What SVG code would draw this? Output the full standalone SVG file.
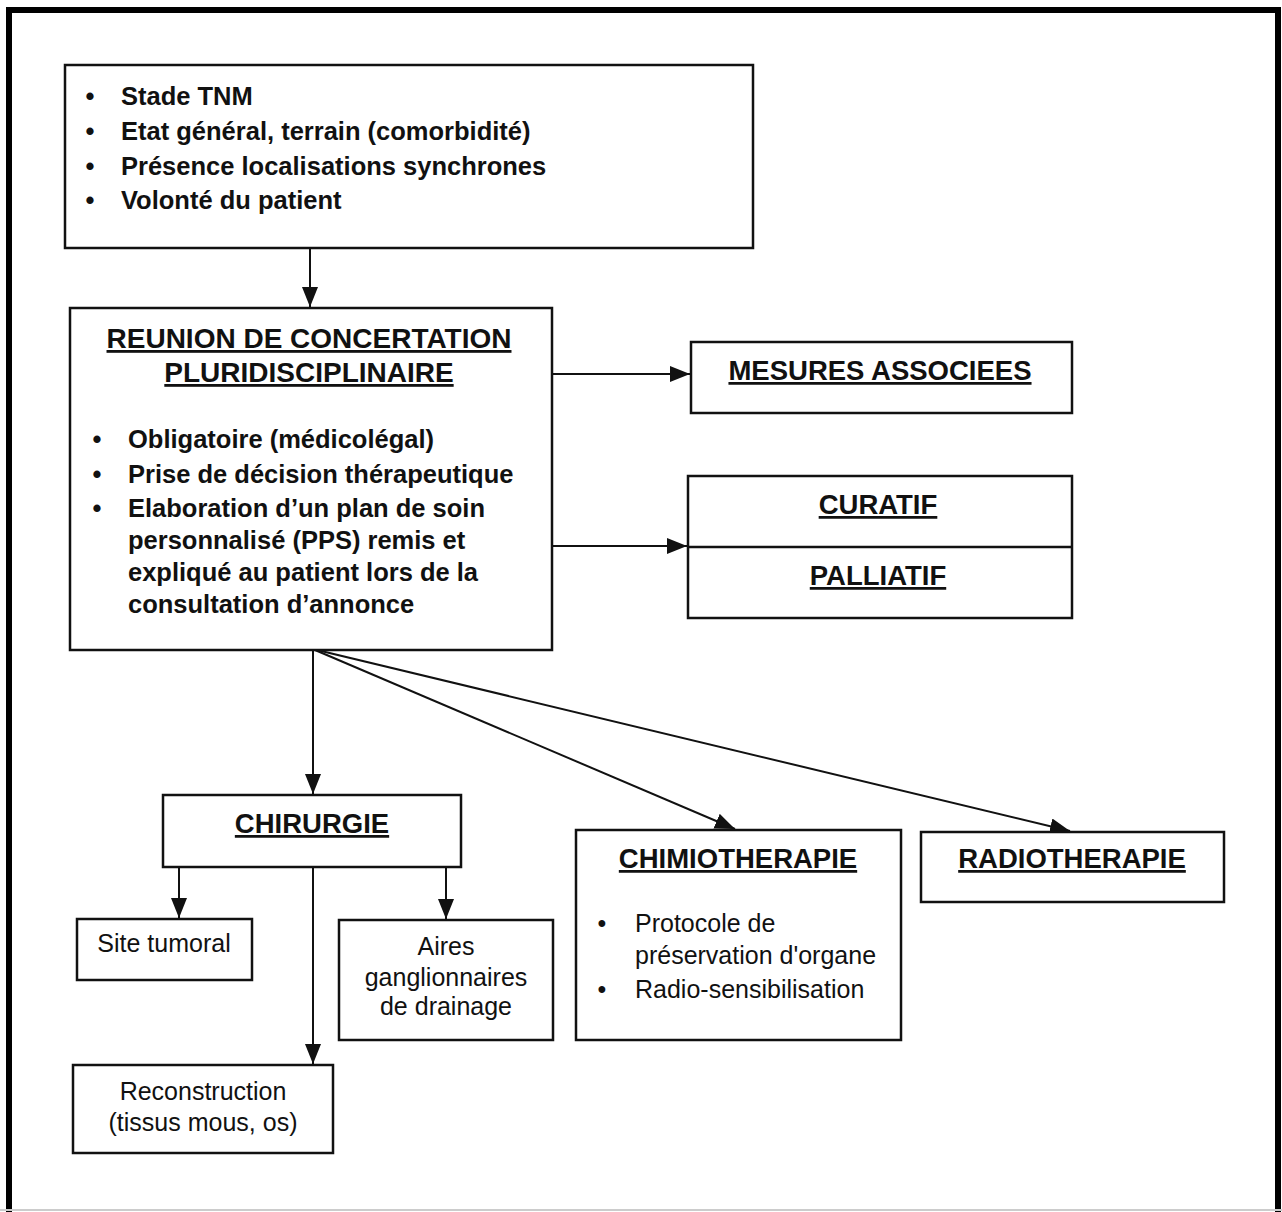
<svg xmlns="http://www.w3.org/2000/svg" width="1282" height="1212" viewBox="0 0 1282 1212">
<style>
.box{fill:#fff;stroke:#111;stroke-width:2.5}
.t{font-family:"Liberation Sans",Arial,sans-serif;fill:#111}
.b{font-weight:bold;font-size:25.5px}
.n{font-size:25px}
.h{font-weight:bold;font-size:27.5px;text-decoration:underline}
.c{text-anchor:middle}
.con{stroke:#111;stroke-width:2;fill:none}
</style>
<defs>
<marker id="ah" markerUnits="userSpaceOnUse" markerWidth="22" markerHeight="18" refX="20" refY="8" orient="auto">
<path d="M0,0 L20,8 L0,16 z" fill="#111"/>
</marker>
</defs>
<rect width="1282" height="1212" fill="#fff"/>
<path d="M9,1212 V10 H1278 V1212" fill="none" stroke="#000" stroke-width="6"/>
<line x1="0" y1="1210" x2="1282" y2="1210" stroke="#ccc" stroke-width="2"/>

<g id="connectors">
<line class="con" x1="310" y1="248" x2="310" y2="307" marker-end="url(#ah)"/>
<line class="con" x1="552" y1="374" x2="690" y2="374" marker-end="url(#ah)"/>
<line class="con" x1="552" y1="546" x2="687" y2="546" marker-end="url(#ah)"/>
<line class="con" x1="313" y1="650" x2="313" y2="794" marker-end="url(#ah)"/>
<line class="con" x1="315" y1="650" x2="735" y2="829" marker-end="url(#ah)"/>
<line class="con" x1="317" y1="650" x2="1070" y2="831" marker-end="url(#ah)"/>
<line class="con" x1="179" y1="867" x2="179" y2="918" marker-end="url(#ah)"/>
<line class="con" x1="313" y1="867" x2="313" y2="1064" marker-end="url(#ah)"/>
<line class="con" x1="446" y1="867" x2="446" y2="919" marker-end="url(#ah)"/>
</g>

<g id="criteres">
<rect class="box" x="65" y="65" width="688" height="183"/>
<text class="t b c" x="90" y="105">•</text>
<text class="t b" x="121" y="105">Stade TNM</text>
<text class="t b c" x="90" y="140">•</text>
<text class="t b" x="121" y="140">Etat général, terrain (comorbidité)</text>
<text class="t b c" x="90" y="175">•</text>
<text class="t b" x="121" y="175">Présence localisations synchrones</text>
<text class="t b c" x="90" y="209">•</text>
<text class="t b" x="121" y="209">Volonté du patient</text>
</g>

<g id="rcp">
<rect class="box" x="70" y="308" width="482" height="342"/>
<text class="t h c" x="309" y="348" style="font-size:28px">REUNION DE CONCERTATION</text>
<text class="t h c" x="309" y="382" style="font-size:28px">PLURIDISCIPLINAIRE</text>
<text class="t b c" x="97" y="448">•</text>
<text class="t b" x="128" y="448">Obligatoire (médicolégal)</text>
<text class="t b c" x="97" y="483">•</text>
<text class="t b" x="128" y="483">Prise de décision thérapeutique</text>
<text class="t b c" x="97" y="517">•</text>
<text class="t b" x="128" y="517">Elaboration d’un plan de soin</text>
<text class="t b" x="128" y="549">personnalisé (PPS) remis et</text>
<text class="t b" x="128" y="581">expliqué au patient lors de la</text>
<text class="t b" x="128" y="613">consultation d’annonce</text>
</g>

<g id="mesures">
<rect class="box" x="691" y="342" width="381" height="71"/>
<text class="t h c" x="880" y="380">MESURES ASSOCIEES</text>
</g>

<g id="intention">
<rect class="box" x="688" y="476" width="384" height="142"/>
<line x1="688" y1="547" x2="1072" y2="547" stroke="#111" stroke-width="2.5"/>
<text class="t h c" x="878" y="514">CURATIF</text>
<text class="t h c" x="878" y="585">PALLIATIF</text>
</g>

<g id="chirurgie">
<rect class="box" x="163" y="795" width="298" height="72"/>
<text class="t h c" x="312" y="833">CHIRURGIE</text>
</g>

<g id="chimiotherapie">
<rect class="box" x="576" y="830" width="325" height="210"/>
<text class="t h c" x="738" y="868">CHIMIOTHERAPIE</text>
<text class="t n c" x="602" y="932">•</text>
<text class="t n" x="635" y="932">Protocole de</text>
<text class="t n" x="635" y="964">préservation d'organe</text>
<text class="t n c" x="602" y="998">•</text>
<text class="t n" x="635" y="998">Radio-sensibilisation</text>
</g>

<g id="radiotherapie">
<rect class="box" x="921" y="832" width="303" height="70"/>
<text class="t h c" x="1072" y="868">RADIOTHERAPIE</text>
</g>

<g id="site">
<rect class="box" x="77" y="919" width="175" height="61"/>
<text class="t n c" x="164" y="952">Site tumoral</text>
</g>

<g id="aires">
<rect class="box" x="339" y="920" width="214" height="120"/>
<text class="t n c" x="446" y="955">Aires</text>
<text class="t n c" x="446" y="986">ganglionnaires</text>
<text class="t n c" x="446" y="1015">de drainage</text>
</g>

<g id="reconstruction">
<rect class="box" x="73" y="1065" width="260" height="88"/>
<text class="t n c" x="203" y="1100">Reconstruction</text>
<text class="t n c" x="203" y="1131">(tissus mous, os)</text>
</g>
</svg>
